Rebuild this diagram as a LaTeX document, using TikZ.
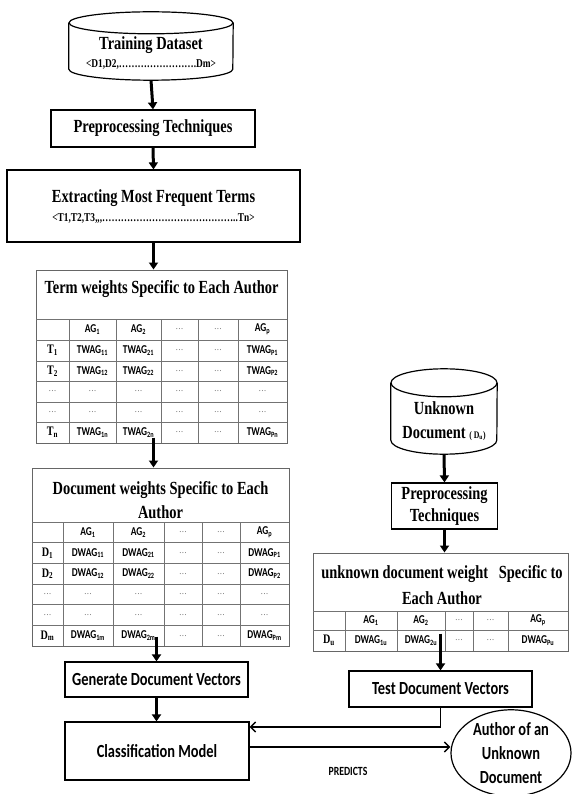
\documentclass[tikz,border=0pt]{standalone}
\usepackage{fontspec}
\setmainfont{Liberation Serif}[FakeStretch=0.78]
\newfontfamily\calibri{Carlito}[FakeStretch=0.78]
\usetikzlibrary{shapes.geometric, arrows.meta}
\newcommand{\subidx}[1]{\textsubscript{#1}}
\tikzset{
    caja/.style={draw, line width=1.2pt, rectangle, inner sep=0pt, align=center},
    hueco/.style={rectangle, inner sep=0pt},
    borde/.style={line width=1.2pt},
    marco/.style={draw=black!60, line width=1pt, rectangle, inner sep=0pt},
    rejilla/.style={draw=black!55, line width=0.8pt},
    titulo/.style={font=\bfseries\fontsize{18.5}{24}\selectfont, align=center, inner sep=0pt},
    subtit/.style={font=\bfseries\fontsize{12}{12}\selectfont, inner sep=0pt},
    texto/.style={font=\calibri\bfseries\fontsize{18.5}{24}\selectfont, align=center},
    celda/.style={font=\calibri\bfseries\fontsize{12}{12}\selectfont, inner sep=0pt},
    rowlab/.style={font=\bfseries\fontsize{13}{13}\selectfont, inner sep=0pt},
    punto/.style={font=\fontsize{10}{10}\selectfont, text=black!60, inner sep=0pt},
    gruesa/.style={line width=3pt, -{Triangle[length=7pt,width=9pt]}},
    fina/.style={line width=1.5pt, -{Straight Barb[length=5pt,width=10pt]}}
}
\begin{document}
\begin{tikzpicture}[x=1pt, y=-1pt]
    \useasboundingbox (0,0) rectangle (584,794);

    % Columna de entrenamiento
    \node[hueco, minimum width=164pt, minimum height=68pt] (train) at (151,46) {};
    \draw[borde] ([yshift=-11pt]train.north) ellipse[x radius=82, y radius=11];
    \draw[borde] ([yshift=-11pt]train.north west) -- ([yshift=11pt]train.south west)
        arc[start angle=180, end angle=0, x radius=82, y radius=11] -- ([yshift=-11pt]train.north east);
    \node[titulo] (traintit) at (151,45) {Training Dataset};
    \node[subtit] (trainsub) at (151,64) {<D1,D2,…………………….Dm>};
    \node[caja, titulo, minimum width=204pt, minimum height=37pt] (prep) at (153,128.5) {Preprocessing Techniques};
    \node[caja, minimum width=293pt, minimum height=72pt] (ext) at (153.5,206) {};
    \node[titulo] (exttit) at (153.5,198) {Extracting Most Frequent Terms};
    \node[subtit] (extsub) at (153.5,218) {<T1,T2,T3,,,……………………………………..Tn>};

    % Tabla de pesos de terminos
    \node[marco, minimum width=251pt, minimum height=173pt] (termtab) at (161.5,356.5) {};
    \node[titulo] (termtit) at (161.5,289) {Term weights Specific to Each Author};
    \foreach \y in {319,340,361,381,402,422}
        \draw[rejilla] (36,\y) -- (287,\y);
    \foreach \x in {69,116,161,198,238}
        \draw[rejilla] (\x,319) -- (\x,443);
    \foreach \x/\txt [count=\c] in {92.5/AG\subidx{1},138.5/AG\subidx{2},262.5/AG\subidx{p}}
        \node[celda] (tw-0-\c) at (\x,329.5) {\txt};
    \node[punto] (tw-0-d1) at (179.5,329.5) {…};
    \node[punto] (tw-0-d2) at (218,329.5) {…};
    \foreach \y/\r/\a/\b/\p in {350.5/1/11/21/P1,371/2/12/22/P2,432.5/n/1n/2n/Pn} {
        \node[rowlab] (tw-\r-0) at (52.5,\y) {T\subidx{\r}};
        \node[celda] (tw-\r-1) at (92.5,\y) {TWAG\subidx{\a}};
        \node[celda] (tw-\r-2) at (138.5,\y) {TWAG\subidx{\b}};
        \node[punto] (tw-\r-3) at (179.5,\y) {…};
        \node[punto] (tw-\r-4) at (218,\y) {…};
        \node[celda] (tw-\r-5) at (262.5,\y) {TWAG\subidx{\p}};
    }
    \foreach \y [count=\r] in {391.5,412}
        \foreach \x [count=\c] in {52.5,92.5,138.5,179.5,218,262.5}
            \node[punto] (tw-d\r-\c) at (\x,\y) {…};

    % Tabla de pesos de documentos
    \node[marco, minimum width=257pt, minimum height=178pt] (doctab) at (160.5,557) {};
    \node[titulo] (doctit) at (160.5,500) {Document weights Specific to Each\\Author};
    \foreach \y in {522,542.7,563.3,584,604.7,625.3}
        \draw[rejilla] (32,\y) -- (289,\y);
    \foreach \x in {63,113,164,202,240}
        \draw[rejilla] (\x,522) -- (\x,646);
    \foreach \x/\txt [count=\c] in {88/AG\subidx{1},138.5/AG\subidx{2},264.5/AG\subidx{p}}
        \node[celda] (dw-0-\c) at (\x,532.3) {\txt};
    \node[punto] (dw-0-d1) at (183,532.3) {…};
    \node[punto] (dw-0-d2) at (221,532.3) {…};
    \foreach \y/\r/\a/\b/\p in {553/1/11/21/P1,573.7/2/12/22/P2,635.7/m/1m/2m/Pm} {
        \node[rowlab] (dw-\r-0) at (47.5,\y) {D\subidx{\r}};
        \node[celda] (dw-\r-1) at (88,\y) {DWAG\subidx{\a}};
        \node[celda] (dw-\r-2) at (138.5,\y) {DWAG\subidx{\b}};
        \node[punto] (dw-\r-3) at (183,\y) {…};
        \node[punto] (dw-\r-4) at (221,\y) {…};
        \node[celda] (dw-\r-5) at (264.5,\y) {DWAG\subidx{\p}};
    }
    \foreach \y [count=\r] in {594.3,615}
        \foreach \x [count=\c] in {47.5,88,138.5,183,221,264.5}
            \node[punto] (dw-d\r-\c) at (\x,\y) {…};

    \node[caja, texto, minimum width=183pt, minimum height=35pt] (gen) at (156.5,679.5) {Generate Document Vectors};
    \node[caja, texto, minimum width=184pt, minimum height=58pt] (class) at (157,751) {Classification Model};

    % Columna del documento desconocido
    \node[hueco, minimum width=106pt, minimum height=85pt] (unk) at (444,411.5) {};
    \draw[borde] ([yshift=-14pt]unk.north) ellipse[x radius=53, y radius=14];
    \draw[borde] ([yshift=-14pt]unk.north west) -- ([yshift=14pt]unk.south west)
        arc[start angle=180, end angle=0, x radius=53, y radius=14] -- ([yshift=-14pt]unk.north east);
    \node[titulo] (unktit) at (444,421) {Unknown\\Document {\fontsize{10}{10}\selectfont( D\subidx{u})}};
    \node[caja, titulo, minimum width=106pt, minimum height=46pt, font=\bfseries\fontsize{18.5}{22}\selectfont] (prep2) at (444.5,506) {Preprocessing\\Techniques};

    \node[marco, minimum width=255pt, minimum height=98pt] (rtab) at (440.5,602) {};
    \node[titulo, font=\bfseries\fontsize{18.5}{26}\selectfont] (rtit) at (442,585) {unknown document weight~~~Specific to\\Each Author};
    \draw[rejilla] (313,611) -- (568,611);
    \draw[rejilla] (313,630) -- (568,630);
    \foreach \x in {345,397,445,473,508}
        \draw[rejilla] (\x,611) -- (\x,651);
    \foreach \x/\txt [count=\c] in {371/AG\subidx{1},421/AG\subidx{2},538/AG\subidx{p}}
        \node[celda] (uw-0-\c) at (\x,620.5) {\txt};
    \node[punto] (uw-0-d1) at (459,620.5) {…};
    \node[punto] (uw-0-d2) at (490.5,620.5) {…};
    \node[rowlab] (uw-1-0) at (329,640.5) {D\subidx{u}};
    \node[celda] (uw-1-1) at (371,640.5) {DWAG\subidx{1u}};
    \node[celda] (uw-1-2) at (421,640.5) {DWAG\subidx{2u}};
    \node[punto] (uw-1-3) at (459,640.5) {…};
    \node[punto] (uw-1-4) at (490.5,640.5) {…};
    \node[celda] (uw-1-5) at (538,640.5) {DWAG\subidx{Pu}};

    \node[caja, texto, minimum width=183pt, minimum height=36pt] (test) at (440.5,689) {Test Document Vectors};
    \node[ellipse, draw, line width=1.2pt, texto, minimum width=120pt, minimum height=82pt, inner sep=0pt] (autor) at (511,753)
        {Author of an\\Unknown\\Document};
    \node[celda, font=\calibri\bfseries\fontsize{12.5}{12.5}\selectfont] (pred) at (348,771) {PREDICTS};

    % Flechas
    \draw[gruesa] (train.south) -- (prep.north);
    \draw[gruesa] (prep.south) -- (ext.north);
    \draw[gruesa] (ext.south) -- (ext.south |- termtab.north);
    \draw[gruesa] ([yshift=6pt]termtab.south -| ext.south) -- (ext.south |- doctab.north);
    \draw[gruesa] ([yshift=10pt]doctab.south -| gen.north) -- (gen.north);
    \draw[gruesa] (gen.south) -- (gen.south |- class.north);
    \draw[gruesa] (unk.south) -- (prep2.north);
    \draw[gruesa] (prep2.south) -- (prep2.south |- rtab.north);
    \draw[gruesa] ([yshift=18pt]rtab.south -| test.north) -- (test.north);
    \draw[fina] (test.south) |- ([yshift=24pt]class.east);
    \draw[fina] ([yshift=4pt]class.east) -- ([yshift=4pt]class.east -| autor.west);
\end{tikzpicture}
\end{document}
